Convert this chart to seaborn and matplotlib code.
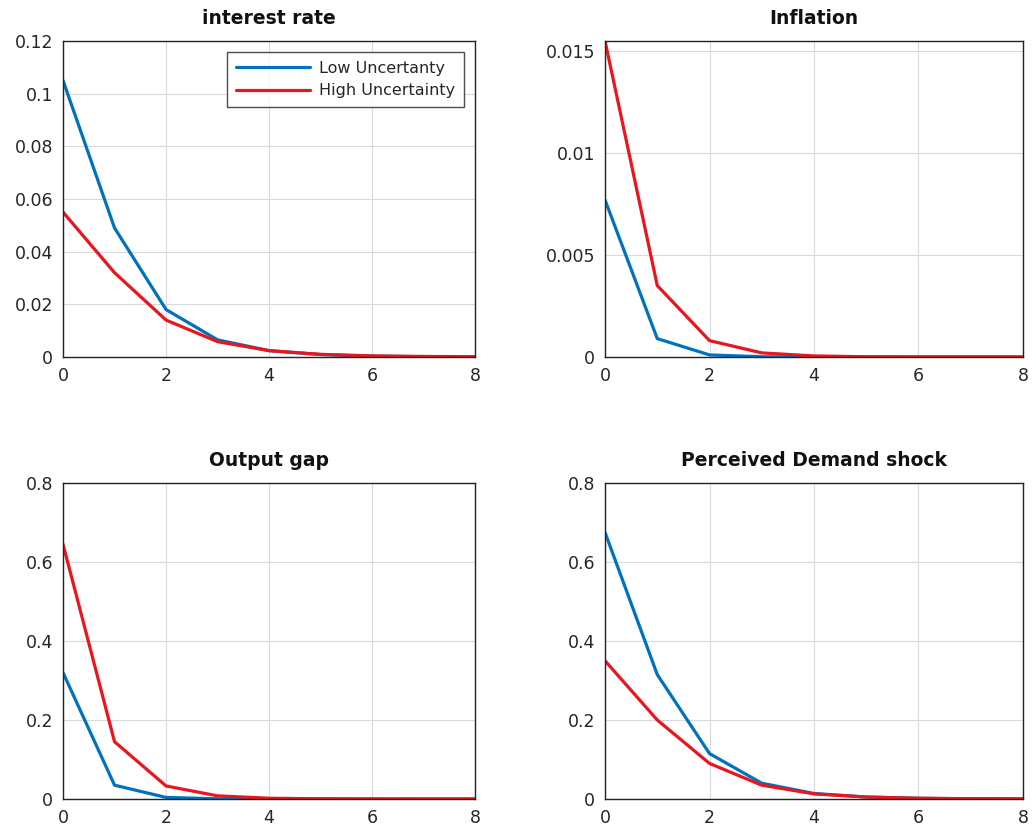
import numpy as np
import pandas as pd
import matplotlib
matplotlib.use("Agg")
import matplotlib.pyplot as plt
import seaborn as sns
from matplotlib.ticker import FuncFormatter

periods = [0, 1, 2, 3, 4, 5, 6, 7, 8]

interest_low = [0.105, 0.049, 0.018, 0.0065, 0.0024, 0.0009, 0.0003, 0.0001, 0.00004]
interest_high = [0.055, 0.032, 0.014, 0.0058, 0.0024, 0.001, 0.0004, 0.0002, 0.0001]

inflation_low = [0.0077, 0.0009, 0.0001, 0.00001, 0.0, 0.0, 0.0, 0.0, 0.0]
inflation_high = [0.0155, 0.0035, 0.0008, 0.0002, 0.00005, 0.00001, 0.0, 0.0, 0.0]

output_low = [0.32, 0.035, 0.004, 0.0005, 0.0001, 0.0, 0.0, 0.0, 0.0]
output_high = [0.645, 0.145, 0.033, 0.008, 0.002, 0.0005, 0.0001, 0.0, 0.0]

demand_low = [0.675, 0.315, 0.115, 0.04, 0.014, 0.005, 0.0018, 0.0006, 0.0002]
demand_high = [0.35, 0.2, 0.09, 0.035, 0.013, 0.005, 0.002, 0.0007, 0.0003]

titles = ["interest rate", "Inflation", "Output gap", "Perceived Demand shock"]
series_names = ["Low Uncertanty", "High Uncertainty"]
ylims = [(0, 0.12), (0, 0.0155), (0, 0.8), (0, 0.8)]
yticks = [[0, 0.02, 0.04, 0.06, 0.08, 0.1, 0.12],
          [0, 0.005, 0.01, 0.015],
          [0, 0.2, 0.4, 0.6, 0.8],
          [0, 0.2, 0.4, 0.6, 0.8]]
xticks = [0, 2, 4, 6, 8]

data = [(interest_low, interest_high), (inflation_low, inflation_high),
        (output_low, output_high), (demand_low, demand_high)]

sns.set_theme(style="white")
plt.rcParams['font.family'] = ['DejaVu Sans']

fig = plt.figure(figsize=(10.33, 8.35), dpi=100)
positions = [
    [0.061, 0.5725, 0.399, 0.3784],
    [0.5857, 0.5725, 0.4046, 0.3784],
    [0.061, 0.0431, 0.399, 0.3784],
    [0.5857, 0.0431, 0.4046, 0.3784],
]
colors = ["#0072BD", "#E8161E"]

fmt = FuncFormatter(lambda v, p: f"{v:g}")

for i, pos in enumerate(positions):
    ax = fig.add_axes(pos)
    low, high = data[i]
    df = pd.DataFrame({
        "period": periods * 2,
        "value": low + high,
        "series": [series_names[0]] * len(low) + [series_names[1]] * len(high),
    })
    sns.lineplot(data=df, x="period", y="value", hue="series",
                 palette=colors, linewidth=2.3, ax=ax, legend=(i == 0))
    ax.set_xlim(0, 8)
    ax.set_ylim(*ylims[i])
    ax.set_xticks(xticks)
    ax.set_yticks(yticks[i])
    ax.yaxis.set_major_formatter(fmt)
    ax.set_xlabel("")
    ax.set_ylabel("")
    ax.set_title(titles[i], fontsize=13.5, fontweight="bold", pad=12,
                 color="#111111")
    ax.grid(True, color="#d9d9d9", linewidth=0.8)
    ax.tick_params(axis="both", labelsize=12.5, direction="in", length=4,
                   colors="#262626", pad=7)
    for s in ax.spines.values():
        s.set_color("#222222")
        s.set_linewidth(1.0)
    if i == 0:
        leg = ax.legend(loc="upper right", fontsize=11.5, frameon=True,
                        fancybox=False, edgecolor="#222222",
                        borderaxespad=0.7, handlelength=4.6,
                        borderpad=0.55, labelspacing=0.45, handletextpad=0.6)
        leg.get_frame().set_linewidth(1.0)

fig.savefig("out.png", dpi=100, facecolor="white")
